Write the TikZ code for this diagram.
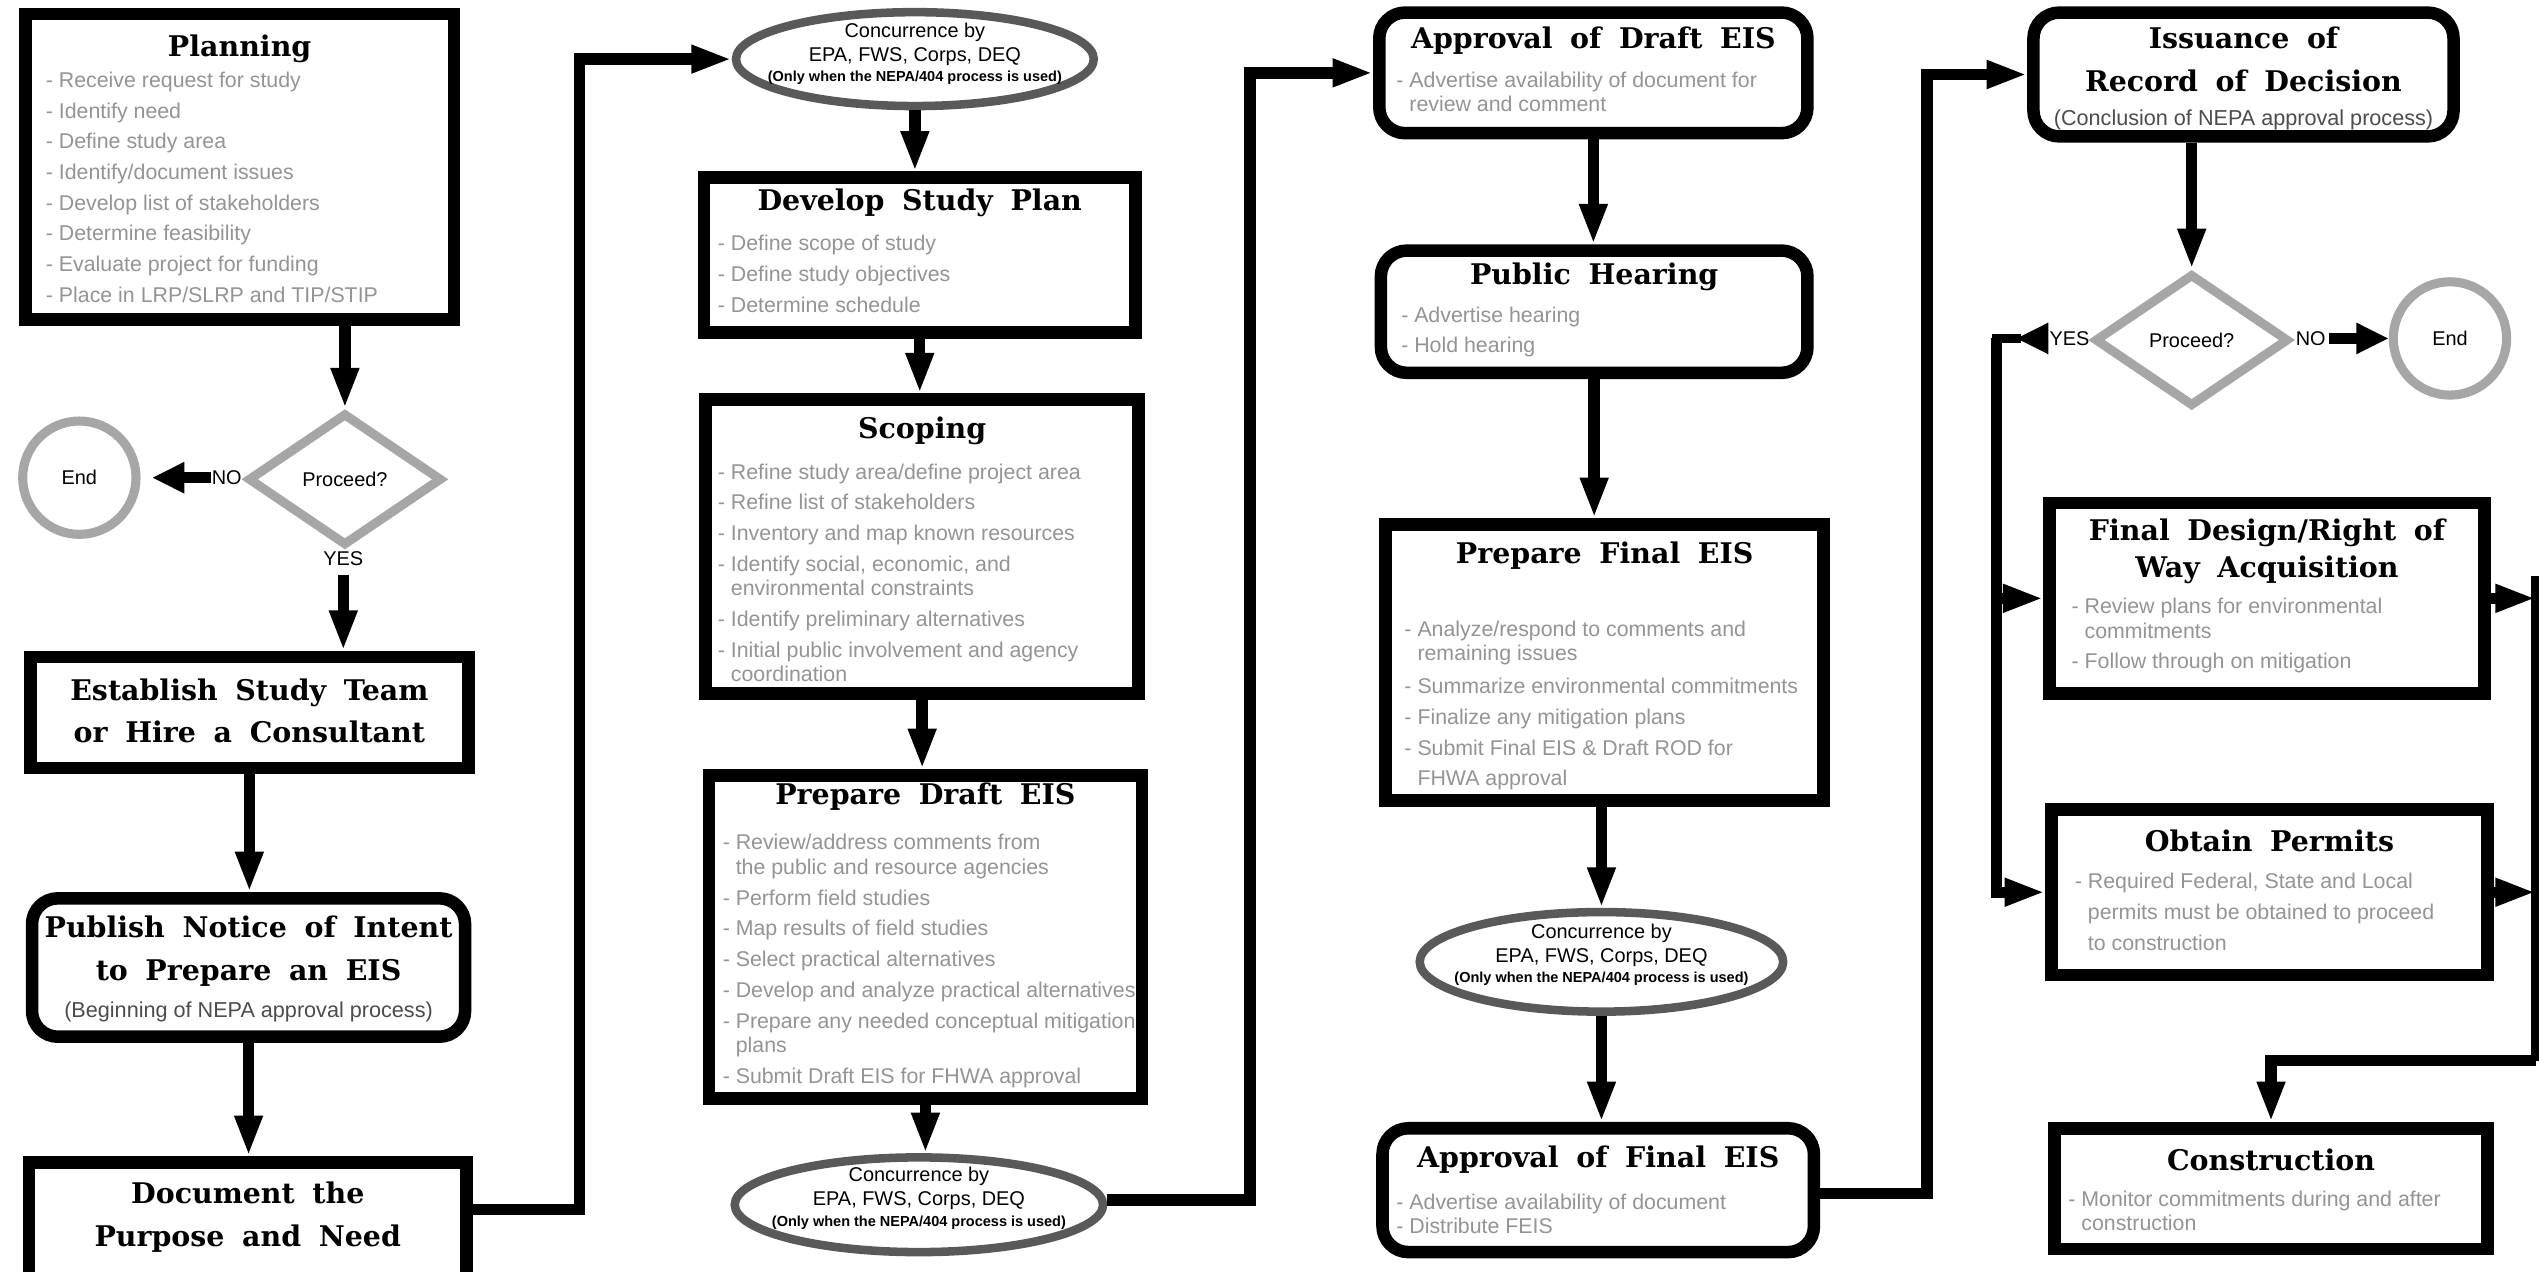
\documentclass[tikz,border=0pt]{standalone}
\usepackage{tikz}
\usepackage{xcolor}
\usepackage{fontspec}
\setmainfont{Liberation Sans}
\newfontfamily\ttlfont{DejaVu Serif}
\newcommand{\ttlsize}{\fontsize{10}{15}\selectfont\spaceskip 0.62em\relax}
\usetikzlibrary{shapes.geometric,arrows.meta}

\begin{document}
\begin{tikzpicture}[x=0.02cm,y=-0.02cm,
  box/.style={draw,line width=4.4pt,fill=white,inner sep=0pt},
  rbox/.style={box,rounded corners=0.32cm},
  ttl/.style={font={\ttlfont\bfseries\ttlsize},align=center,inner sep=0pt},
  txt/.style={font=\fontsize{7.5}{8.6}\selectfont,text=black!42,align=left,anchor=north west,inner sep=0pt},
  sub/.style={font=\fontsize{7.6}{9}\selectfont,text=black!70,inner sep=0pt},
  lbl/.style={font=\fontsize{7}{8}\selectfont,inner sep=0pt},
  conc/.style={ellipse,draw=black!65,line width=3pt,inner sep=0pt},
  ctxt/.style={font=\fontsize{7}{8.4}\selectfont,align=center,inner sep=0pt},
  ask/.style={diamond,draw=black!35,line width=3.2pt,inner sep=0pt,minimum width=2.4cm,minimum height=1.64cm,font=\fontsize{7}{8}\selectfont},
  stop/.style={circle,draw=black!35,line width=3.2pt,inner sep=0pt,minimum size=1.4cm,font=\fontsize{7}{8}\selectfont},
  arr/.style={line width=4pt,-{Triangle[length=0.5cm,width=0.32cm]}},
  sarr/.style={line width=4pt,-{Triangle[length=0.4cm,width=0.36cm]}},
  link/.style={line width=3.4pt}]
\useasboundingbox (0,0) rectangle (1568,785);
\clip (0,0) rectangle (1568,785);

% first column
\node[box,minimum width=5.29cm,minimum height=3.77cm] (plan) at (148,103) {};
\node[ttl] (plan-h) at (148,30) {Planning};
\node[txt] (plan-b) at (28,44) {- Receive request for study\\[2.2pt]
- Identify need\\[2.2pt]
- Define study area\\[2.2pt]
- Identify/document issues\\[2.2pt]
- Develop list of stakeholders\\[2.2pt]
- Determine feasibility\\[2.2pt]
- Evaluate project for funding\\[2.2pt]
- Place in LRP/SLRP and TIP/STIP};
\node[ask] (dia1) at (213,296) {Proceed?};
\node[stop] (end1) at (49,295) {End};
\node[lbl] (no1) at (140,295) {NO};
\node[lbl] (yes1) at (212,345) {YES};
\node[box,minimum width=5.41cm,minimum height=1.37cm] (est) at (154,440) {};
\node[ttl] (est-h) at (154,439) {Establish Study Team\\or Hire a Consultant};
\node[rbox,minimum width=5.35cm,minimum height=1.71cm] (pub) at (153.5,597.5) {};
\node[ttl] (pub-h) at (153.5,587.5) {Publish Notice of Intent\\to Prepare an EIS};
\node[sub] (pub-s) at (153.5,625) {(Beginning of NEPA approval process)};
\node[box,minimum width=5.41cm,minimum height=1.57cm] (doc) at (153,757) {};
\node[ttl] (doc-h) at (153,751.5) {Document the\\Purpose and Need};

% second column
\node[conc,minimum width=4.42cm,minimum height=1.16cm] (ell1) at (565,36.5) {};
\node[ctxt] (ell1-t) at (565,33) {Concurrence by\\EPA, FWS, Corps, DEQ\\[-1.4pt]{\fontsize{5.1}{6}\selectfont\bfseries (Only when the NEPA/404 process is used)}};
\node[box,minimum width=5.33cm,minimum height=1.91cm] (dsp) at (568,157.5) {};
\node[ttl] (dsp-h) at (568,125) {Develop Study Plan};
\node[txt] (dsp-b) at (443,145) {- Define scope of study\\[2.2pt]
- Define study objectives\\[2.2pt]
- Determine schedule};
\node[box,minimum width=5.35cm,minimum height=3.63cm] (scp) at (569.5,337.5) {};
\node[ttl] (scp-h) at (569.5,266) {Scoping};
\node[txt] (scp-b) at (443,286) {- Refine study area/define project area\\[2.2pt]
- Refine list of stakeholders\\[2.2pt]
- Inventory and map known resources\\[2.2pt]
- Identify social, economic, and\\
\phantom{- }environmental constraints\\[2.2pt]
- Identify preliminary alternatives\\[2.2pt]
- Initial public involvement and agency\\
\phantom{- }coordination};
\node[box,minimum width=5.35cm,minimum height=3.99cm] (pde) at (571.5,578.5) {};
\node[ttl] (pde-h) at (571.5,492) {Prepare Draft EIS};
\node[txt] (pde-b) at (446,515) {- Review/address comments from\\
\phantom{- }the public and resource agencies\\[2.2pt]
- Perform field studies\\[2.2pt]
- Map results of field studies\\[2.2pt]
- Select practical alternatives\\[2.2pt]
- Develop and analyze practical alternatives\\[2.2pt]
- Prepare any needed conceptual mitigation\\
\phantom{- }plans\\[2.2pt]
- Submit Draft EIS for FHWA approval};
\node[conc,minimum width=4.55cm,minimum height=1.17cm] (ell2) at (567.5,744) {};
\node[ctxt] (ell2-t) at (567.5,740) {Concurrence by\\EPA, FWS, Corps, DEQ\\[-1pt]{\fontsize{5.1}{6}\selectfont\bfseries (Only when the NEPA/404 process is used)}};

% third column
\node[rbox,minimum width=5.29cm,minimum height=1.49cm] (ade) at (984,45) {};
\node[ttl] (ade-h) at (984,25) {Approval of Draft EIS};
\node[txt] (ade-b) at (862,44) {- Advertise availability of document for\\
\phantom{- }review and comment};
\node[rbox,minimum width=5.27cm,minimum height=1.51cm] (phr) at (984.5,192.5) {};
\node[ttl] (phr-h) at (984.5,171) {Public Hearing};
\node[txt] (phr-b) at (865,189) {- Advertise hearing\\[2.2pt]
- Hold hearing};
\node[box,minimum width=5.41cm,minimum height=3.41cm] (pfe) at (991,409) {};
\node[ttl] (pfe-h) at (991,343) {Prepare Final EIS};
\node[txt] (pfe-b) at (867,383) {- Analyze/respond to comments and\\
\phantom{- }remaining issues\\[3pt]
- Summarize environmental commitments\\[2.2pt]
- Finalize any mitigation plans\\[2.2pt]
- Submit Final EIS \& Draft ROD for\\[2.2pt]
\phantom{- }FHWA approval};
\node[conc,minimum width=4.49cm,minimum height=1.23cm] (ell3) at (989,594) {};
\node[ctxt] (ell3-t) at (989,589.5) {Concurrence by\\EPA, FWS, Corps, DEQ\\[-1.4pt]{\fontsize{5.1}{6}\selectfont\bfseries (Only when the NEPA/404 process is used)}};
\node[rbox,minimum width=5.33cm,minimum height=1.53cm] (afe) at (987,735) {};
\node[ttl] (afe-h) at (987,716) {Approval of Final EIS};
\node[txt] (afe-b) at (862,737) {- Advertise availability of document\\
- Distribute FEIS};

% fourth column
\node[rbox,minimum width=5.19cm,minimum height=1.53cm] (iss) at (1385.5,46) {};
\node[ttl] (iss-h) at (1385.5,36.5) {Issuance of\\Record of Decision};
\node[sub] (iss-s) at (1385.5,74) {(Conclusion of NEPA approval process)};
\node[ask] (dia2) at (1353.5,210) {Proceed?};
\node[lbl] (yes2) at (1278,209) {YES};
\node[lbl] (no2) at (1427,209) {NO};
\node[stop] (end2) at (1513,209) {End};
\node[box,minimum width=5.37cm,minimum height=2.35cm] (fdr) at (1400,369.5) {};
\node[ttl] (fdr-h) at (1400,340.5) {Final Design/Right of\\[-2pt]Way Acquisition};
\node[txt] (fdr-b) at (1279,369) {- Review plans for environmental\\
\phantom{- }commitments\\[2.2pt]
- Follow through on mitigation};
\node[box,minimum width=5.39cm,minimum height=2.05cm] (opm) at (1401.5,551) {};
\node[ttl] (opm-h) at (1401.5,519) {Obtain Permits};
\node[txt] (opm-b) at (1281,539) {- Required Federal, State and Local\\[2.2pt]
\phantom{- }permits must be obtained to proceed\\[2.2pt]
\phantom{- }to construction};
\node[box,minimum width=5.35cm,minimum height=1.49cm] (con) at (1402.5,734) {};
\node[ttl] (con-h) at (1402.5,716) {Construction};
\node[txt] (con-b) at (1277,735) {- Monitor commitments during and after\\
\phantom{- }construction};

\coordinate (c1) at (358,747);
\coordinate (c2) at (772,741);
\coordinate (c3) at (1190,737);
\coordinate (ya) at (1245,209);
\coordinate (yl) at (1233,209);
\coordinate (rt) at (1566,356);
\coordinate (rb) at (1566,655);

% connectors
\draw[arr] (plan.south -| dia1.north) -- (dia1.north);
\draw[sarr,shorten >=4pt] (no1.west) -- (end1.east);
\draw[arr,shorten <=3pt] (yes1.south) -- (yes1.south |- est.north);
\draw[arr] (est.south) -- (est.south |- pub.north);
\draw[arr] (pub.south) -- (pub.south |- doc.north);
\draw[arr] (doc.east |- c1) -- (c1) |- (ell1.west);
\draw[arr] (ell1.south) -- (ell1.south |- dsp.north);
\draw[arr] (dsp.south) -- (dsp.south |- scp.north);
\draw[arr] (scp.south) -- (scp.south |- pde.north);
\draw[arr] (pde.south) -- (pde.south |- ell2.north);
\draw[arr] (ell2.east |- c2) -- (c2) |- (ade.west);
\draw[arr] (ade.south) -- (ade.south |- phr.north);
\draw[arr] (phr.south) -- (phr.south |- pfe.north);
\draw[arr] (ell3.north |- pfe.south) -- (ell3.north);
\draw[arr] (ell3.south) -- (ell3.south |- afe.north);
\draw[arr] (afe.east |- c3) -- (c3) |- (iss.west);
\draw[arr] (iss.south -| dia2.north) -- (dia2.north);
\draw[sarr,shorten <=1pt] (yes2.west) -- (ya);
\draw[link,line cap=rect] (ya) -- (yl);
\draw[arr] (yl) |- (opm.west);
\draw[arr] (yl |- fdr.west) -- (fdr.west);
\draw[sarr,shorten <=1pt] (no2.east) -- (end2.west);
\draw[arr] (fdr.east) -- (fdr.east -| rb);
\draw[arr] (opm.east) -- (opm.east -| rb);
\draw[link] (rt) -- (rb);
\draw[arr] (rb) -| (con.north);
\end{tikzpicture}
\end{document}
